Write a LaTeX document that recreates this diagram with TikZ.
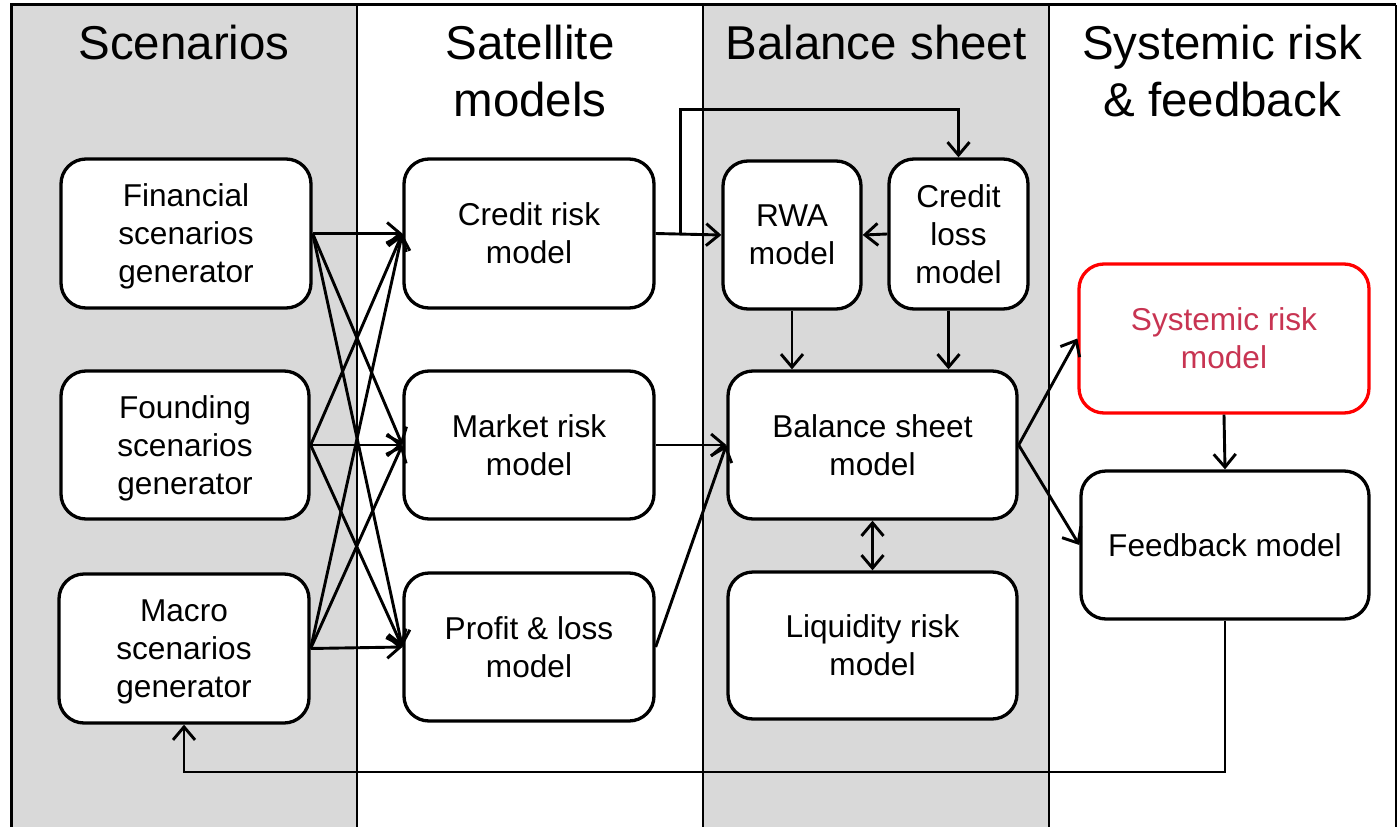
\documentclass[tikz,border=0pt]{standalone}
\usepackage{fontspec}
\setmainfont{Liberation Sans}
\usetikzlibrary{arrows.meta}
\definecolor{colgray}{RGB}{217,217,217}
\definecolor{srtext}{RGB}{200,52,82}
\definecolor{srframe}{RGB}{255,0,0}
\newcommand\boxfont{\fontsize{31.6}{38}\selectfont}
\newcommand\headfont{\fontsize{47.5}{57}\selectfont}
\tikzset{
  box/.style={draw, line width=3.3pt, rounded corners=25pt, fill=white, align=center, inner sep=0pt, text depth=0pt, font=\boxfont},
  head/.style={anchor=north, align=center, inner sep=0pt, font=\headfont},
  arr/.style={line width=2.9pt, -{Straight Barb[length=13pt,width=22pt]}},
  arrtwo/.style={line width=2.9pt, {Straight Barb[length=13pt,width=22pt]}-{Straight Barb[length=13pt,width=22pt]}},
}
\begin{document}
\begin{tikzpicture}[x=1pt,y=-1pt]
\useasboundingbox (0,0) rectangle (1400,827);
% columns
\fill[colgray] (11,4) rectangle (357,840);
\fill[colgray] (703,4) rectangle (1049,840);
\draw[line width=1.8pt] (357,4) -- (357,840);
\draw[line width=1.8pt] (703,4) -- (703,840);
\draw[line width=1.8pt] (1049,4) -- (1049,840);
\draw[line width=3pt] (11,840) -- (11,4.5) -- (1396,4.5);
\draw[line width=2pt] (1396,4.5) -- (1396,840);
% headings
\node[head] (h1) at (184,25) {Scenarios};
\node[head] (h2) at (530,25) {Satellite\\models};
\node[head] (h3) at (876,25) {Balance sheet};
\node[head] (h4) at (1222,25) {Systemic risk\\\& feedback};
% boxes
\node[box, minimum width=250pt, minimum height=149pt] (fin) at (186,233.5) {Financial\\scenarios\\generator};
\node[box, minimum width=248pt, minimum height=148pt] (fou) at (185,445) {Founding\\scenarios\\generator};
\node[box, minimum width=250pt, minimum height=149pt] (mac) at (184,648.5) {Macro\\scenarios\\generator};
\node[box, minimum width=250pt, minimum height=149pt] (cr) at (529,233.5) {Credit risk\\model};
\node[box, minimum width=250pt, minimum height=148pt] (mr) at (529,445) {Market risk\\model};
\node[box, minimum width=250pt, minimum height=148pt] (pl) at (529,647) {Profit \& loss\\model};
\node[box, minimum width=138pt, minimum height=148pt] (rwa) at (792,235) {RWA\\model};
\node[box, minimum width=139pt, minimum height=150pt] (cl) at (958.5,234) {Credit\\loss\\model};
\node[box, minimum width=289pt, minimum height=148pt] (bs) at (872.5,445) {Balance sheet\\model};
\node[box, minimum width=289pt, minimum height=147pt] (lr) at (872.5,645.5) {Liquidity risk\\model};
\node[box, draw=srframe, text=srtext, minimum width=290pt, minimum height=149pt] (sr) at (1224,338.5) {Systemic risk\\model};
\node[box, minimum width=288pt, minimum height=148pt] (fb) at (1225,545) {Feedback model};
% scenario -> satellite
\foreach \s in {fin,fou,mac}
  \foreach \t in {cr,mr,pl}
    \draw[arr] (\s.east) -- (\t.west);
% satellite -> balance sheet
\draw[arr] (cr.east) -- (rwa.west);
\coordinate (br) at ([xshift=25pt]cr.east);
\draw[arr] (br) |- ([yshift=48pt]cl.north) -- (cl.north);
\draw[arr] (cl.west) -- (rwa.east);
\draw[arr] (rwa.south) -- (rwa.south |- bs.north);
\draw[arr] ([xshift=-10pt]cl.south) -- ([xshift=-10pt]cl.south |- bs.north);
\draw[arr] (mr.east) -- (bs.west);
\draw[arr] (pl.east) -- (bs.west);
\draw[arrtwo] (bs.south) -- (lr.north);
% systemic
\draw[arr] (bs.east) -- (sr.west);
\draw[arr] (bs.east) -- (fb.west);
\draw[arr] (sr.south) -- (fb.north);
\coordinate (loop) at (0,772);
\draw[arr] (fb.south) -- (fb.south |- loop) -| (mac.south);
\end{tikzpicture}
\end{document}
